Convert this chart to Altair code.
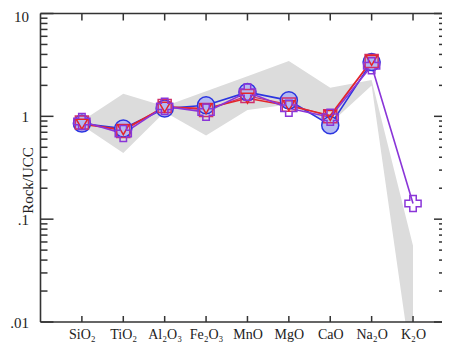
import altair as alt
import pandas as pd

oxides = ["SiO₂", "TiO₂", "Al₂O₃", "Fe₂O₃", "MnO", "MgO", "CaO", "Na₂O", "K₂O"]
xpos = [1, 2, 3, 4, 5, 6, 7, 8, 9]

blue_circle = [0.85, 0.76, 1.19, 1.28, 1.72, 1.43, 0.82, 3.37, None]
red_triangle = [0.84, 0.74, 1.23, 1.19, 1.50, 1.27, 1.02, 3.50, None]
red_square = [0.87, 0.72, 1.26, 1.15, 1.58, 1.30, 1.00, 3.45, None]
purple_cross = [0.89, 0.68, 1.25, 1.10, 1.72, 1.20, 0.98, 3.10, 0.142]

band_high = [0.90, 1.66, 1.25, 1.75, 2.45, 3.45, 1.90, 2.25, 0.055]
band_low = [0.82, 0.44, 1.10, 0.65, 1.15, 1.30, 0.85, 2.00, 0.003]

y_major = [0.01, 0.1, 1, 10]
y_minor = [m * d for d in [0.01, 0.1, 1] for m in [2, 3, 4, 5, 6, 7, 8, 9]]

W = 401.5
H = 308.5
SERIF = "Liberation Serif"

xscale = alt.Scale(domain=[0, 9.7])
yscale = alt.Scale(type="log", domain=[0.01, 10])

label_expr = "[" + ",".join("''" if i == 0 else "'" + oxides[i - 1] + "'" for i in range(10)) + "][datum.value]"

band_df = pd.DataFrame({"x": xpos, "lo": band_low, "hi": band_high})
band = alt.Chart(band_df).mark_area(color="#dcdcdc", clip=True).encode(
    x=alt.X("x:Q", scale=xscale,
            axis=alt.Axis(values=xpos, labelExpr=label_expr, ticks=False, domain=False,
                          grid=False, labelFont=SERIF, labelFontSize=14, labelColor="#222",
                          labelPadding=5, title=None, labelFlush=False)),
    y=alt.Y("lo:Q", scale=yscale,
            axis=alt.Axis(values=y_major, ticks=False, domain=False, grid=False,
                          labelExpr="datum.value < 1 ? slice(format(datum.value, '~g'), 1) : format(datum.value, '~g')",
                          labelFont=SERIF, labelFontSize=15, labelColor="#222",
                          labelPadding=12, title=None, labelFlush=False,
                          labelOffset=alt.condition("datum.value >= 10", alt.value(2.5), alt.value(0)))),
    y2="hi:Q",
)


def series(vals, color, shape, size, filled, fill=None, sw=1.6):
    rows = [(x, v) for x, v in zip(xpos, vals) if v is not None]
    df = pd.DataFrame(rows, columns=["x", "v"])
    base = alt.Chart(df).encode(x=alt.X("x:Q", scale=xscale), y=alt.Y("v:Q", scale=yscale))
    line = base.mark_line(color=color, strokeWidth=sw)
    if filled:
        pts = base.mark_point(shape=shape, size=size, filled=True, fill=fill, stroke=color,
                              strokeWidth=1.5, opacity=1)
    else:
        pts = base.mark_point(shape=shape, size=size, filled=False, color=color,
                              strokeWidth=1.5, opacity=1)
    return line, pts


bl, bp = series(blue_circle, "#2b35e0", "circle", 290, True, fill="#b3baf2")
rl, rp = series(red_triangle, "#e3262a", "triangle-down", 130, False)
sl, sp = series(red_square, "#d0306a", "square", 170, False, sw=1.2)
pl, pp = series(purple_cross, "#8a35d8", "cross", 260, False)

# frame and inward ticks
ymaj = pd.DataFrame({"v": y_major})
ymin = pd.DataFrame({"v": y_minor})
xt = pd.DataFrame({"x": xpos})
tick_color = "#333"
frame_df = pd.DataFrame({"k": [0]})
frame_left = alt.Chart(frame_df).mark_rule(color=tick_color, strokeWidth=1.6).encode(
    x=alt.value(0), y=alt.value(0), y2=alt.value(H))
frame_top = alt.Chart(frame_df).mark_rule(color=tick_color, strokeWidth=1.6).encode(
    x=alt.value(0), x2=alt.value(W), y=alt.value(0))
frame_bottom = alt.Chart(frame_df).mark_rule(color=tick_color, strokeWidth=1.6).encode(
    x=alt.value(0), x2=alt.value(W), y=alt.value(H))
left_major = alt.Chart(ymaj).mark_rule(color=tick_color, strokeWidth=1.5).encode(
    y=alt.Y("v:Q", scale=yscale), x=alt.value(0), x2=alt.value(13))
left_minor = alt.Chart(ymin).mark_rule(color=tick_color, strokeWidth=1.5).encode(
    y=alt.Y("v:Q", scale=yscale), x=alt.value(0), x2=alt.value(7))
right_major = alt.Chart(ymaj).mark_rule(color=tick_color, strokeWidth=1.5).encode(
    y=alt.Y("v:Q", scale=yscale), x=alt.value(W - 8), x2=alt.value(W))
right_minor = alt.Chart(ymin).mark_rule(color=tick_color, strokeWidth=1.5).encode(
    y=alt.Y("v:Q", scale=yscale), x=alt.value(W - 3), x2=alt.value(W))
top_ticks = alt.Chart(xt).mark_rule(color=tick_color, strokeWidth=1.5).encode(
    x=alt.X("x:Q", scale=xscale), y=alt.value(0), y2=alt.value(7))
bottom_ticks = alt.Chart(xt).mark_rule(color=tick_color, strokeWidth=1.5).encode(
    x=alt.X("x:Q", scale=xscale), y=alt.value(H - 6), y2=alt.value(H))

ytitle = alt.Chart(pd.DataFrame({"t": ["Rock/UCC"]})).mark_text(
    font=SERIF, fontSize=15, angle=270, color="#222", align="center", baseline="middle"
).encode(text="t:N", x=alt.value(-13), y=alt.value(167))

chart = alt.layer(
    band, frame_left, frame_top, frame_bottom,
    left_major, left_minor, right_major, right_minor, top_ticks, bottom_ticks,
    bl, sl, rl, pl, bp, sp, rp, pp, ytitle
).properties(
    width=W, height=H,
    autosize=alt.AutoSizeParams(type="none"),
    padding={"left": 32.5, "top": 5.5, "right": 0, "bottom": 21},
    background="white",
).configure_view(stroke=None)

chart.save("out.html", embed_options={"renderer": "svg", "actions": False})
